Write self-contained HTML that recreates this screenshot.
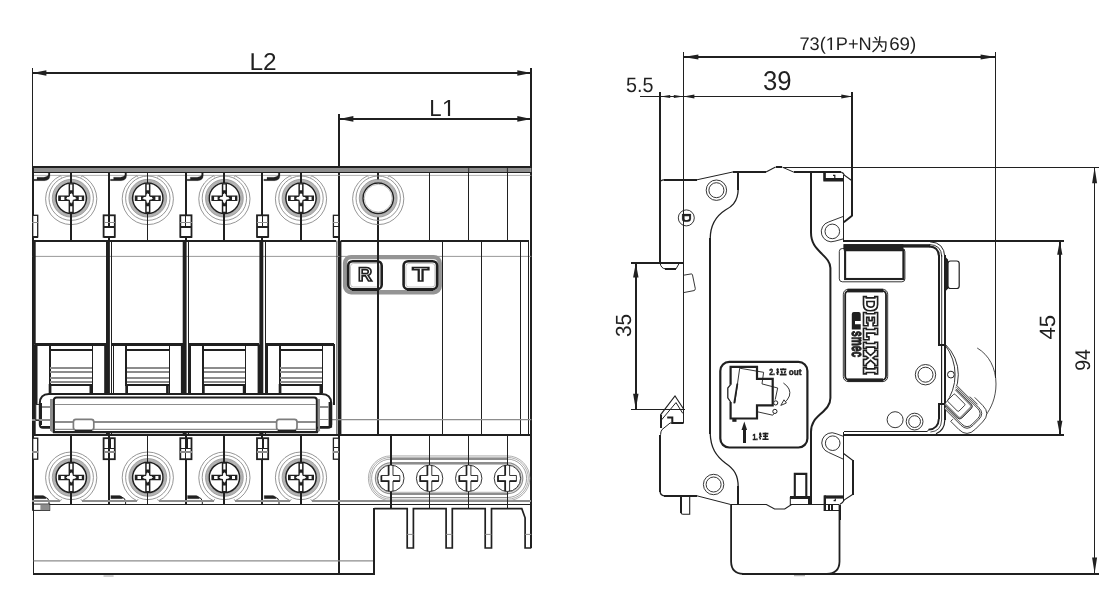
<!DOCTYPE html>
<html><head><meta charset="utf-8"><title>Dimensions</title>
<style>
html,body{margin:0;padding:0;background:#fff;}
svg{display:block;will-change:transform;filter:grayscale(1);}
text{font-family:"Liberation Sans",sans-serif;fill:#231f20;text-rendering:geometricPrecision;}
</style></head><body>
<svg width="1112" height="606" viewBox="0 0 1112 606">
<rect x="0" y="0" width="1112" height="606" fill="#ffffff"/>
<defs>
<g id="rg">
<circle r="22.2" fill="none" stroke="#8a8a8a" stroke-width="0.9"/>
<circle r="17.6" fill="#fff" stroke="#b4b4b4" stroke-width="2.3"/>
<circle r="18.9" fill="none" stroke="#858585" stroke-width="0.7"/>
<circle r="16.4" fill="none" stroke="#8c8c8c" stroke-width="0.6"/>
<circle r="15.2" fill="#fff" stroke="#231f20" stroke-width="1.5"/>
</g>
<g id="bsT">
<path d="M-10.8,-22.8 A25.6,25.6 0 1 0 10.8,-22.8" transform="translate(0,0.4)" fill="none" stroke="#8a8a8a" stroke-width="0.9"/>
<use href="#rg"/>
<path d="M-2.6,-14.8 H2.6 V-2.7 H13 V2.8 H2.6 V14.8 H-2.6 V2.8 H-13 V-2.7 H-2.6 Z" fill="#231f20"/>
<path d="M-1.1,-13.6 H1.1 V-8 H-1.1 Z M-1.1,13.6 H1.1 V8 H-1.1 Z M-10.3,-1.4 H-6.8 V1.7 H-10.3 Z M10.6,-1.4 H7.6 V1.7 H10.6 Z" fill="#fff"/>
<path d="M0,-5.5 L1.6,-1.6 L5.5,0 L1.6,1.6 L0,5.5 L-1.6,1.6 L-5.5,0 L-1.6,-1.6 Z" fill="#fff"/>
<rect x="-1.2" y="-4.2" width="2.4" height="8.4" fill="#fff"/><rect x="-4.2" y="-1.2" width="8.4" height="2.4" fill="#fff"/>
</g>
<g id="bsB">
<path d="M-10.8,22.8 A25.6,25.6 0 1 1 10.8,22.8" transform="translate(0,0.6)" fill="none" stroke="#8a8a8a" stroke-width="0.9"/>
<use href="#rg"/>
<path d="M-2.6,-14.8 H2.6 V-2.7 H13 V2.8 H2.6 V14.8 H-2.6 V2.8 H-13 V-2.7 H-2.6 Z" fill="#231f20"/>
<path d="M-1.1,-13.6 H1.1 V-8 H-1.1 Z M-1.1,13.6 H1.1 V8 H-1.1 Z M-10.3,-1.4 H-6.8 V1.7 H-10.3 Z M10.6,-1.4 H7.6 V1.7 H10.6 Z" fill="#fff"/>
<path d="M0,-5.5 L1.6,-1.6 L5.5,0 L1.6,1.6 L0,5.5 L-1.6,1.6 L-5.5,0 L-1.6,-1.6 Z" fill="#fff"/>
<rect x="-1.2" y="-4.2" width="2.4" height="8.4" fill="#fff"/><rect x="-4.2" y="-1.2" width="8.4" height="2.4" fill="#fff"/>
</g>
<g id="bsE">
<path d="M-10.8,-22.8 A25.6,25.6 0 1 0 10.8,-22.8" transform="translate(0,0.4)" fill="none" stroke="#8a8a8a" stroke-width="0.9"/>
<use href="#rg"/>
<circle r="13.9" fill="none" stroke="#b0b0b0" stroke-width="0.8"/>
</g>
<g id="ss">
<circle r="13.2" fill="#fff" stroke="#231f20" stroke-width="0.9"/>
<path d="M-2.2,-13 V-2.8 H-9.4 V2.8 H-2.2 V13 M2.2,13 V2.8 H9 V-2.8 H2.2 V-13" fill="#fff" stroke="#231f20" stroke-width="0.9"/>
<path d="M-2.2,-13 V-2.8 M-9.4,-2.8 V2.8 H-2.2 V13 M2.2,2.8 H9" fill="none" stroke="#231f20" stroke-width="1.7"/>
</g>
</defs>

<line x1="32.4" y1="68" x2="32.4" y2="166" stroke="#231f20" stroke-width="1.0"  shape-rendering="crispEdges"/>
<line x1="531.3" y1="68" x2="531.3" y2="548" stroke="#231f20" stroke-width="2.0"  shape-rendering="crispEdges"/>
<line x1="32.4" y1="73" x2="531.3" y2="73" stroke="#231f20" stroke-width="1.9"  shape-rendering="crispEdges"/>
<polygon points="32.4,73 46.4,70.2 46.4,75.8" fill="#231f20"/>
<polygon points="531.3,73 517.3,70.2 517.3,75.8" fill="#231f20"/>
<line x1="339" y1="114" x2="339" y2="574.4" stroke="#231f20" stroke-width="2.0"  shape-rendering="crispEdges"/>
<line x1="339.4" y1="118.9" x2="531.3" y2="118.9" stroke="#231f20" stroke-width="1.9"  shape-rendering="crispEdges"/>
<polygon points="339.4,118.9 353.4,116.10000000000001 353.4,121.7" fill="#231f20"/>
<polygon points="531.3,118.9 517.3,116.10000000000001 517.3,121.7" fill="#231f20"/>
<text transform="translate(249.4,69.9) rotate(0) scale(1.0,1)" font-size="24.4" >L2</text>
<text transform="translate(429.2,115.9) rotate(0) scale(0.96,1)" font-size="23.1" >L</text>
<polygon points="447.93,115.90 447.93,102.01 444.15,104.56 444.15,102.65 448.11,100.08 450.09,100.08 450.09,115.90" fill="#231f20"/>
<rect x="32.4" y="166.4" width="498.9" height="5.6" fill="#8f8f8f"/>
<line x1="31.9" y1="166.7" x2="532.0999999999999" y2="166.7" stroke="#231f20" stroke-width="2.0"  shape-rendering="crispEdges"/>
<line x1="32.4" y1="172.1" x2="531.3" y2="172.1" stroke="#231f20" stroke-width="1.0"  shape-rendering="crispEdges"/>
<line x1="468.7" y1="166" x2="468.7" y2="172" stroke="#231f20" stroke-width="0.9" />
<line x1="507.4" y1="166" x2="507.4" y2="172" stroke="#231f20" stroke-width="0.9" />
<line x1="32.4" y1="175.4" x2="531.3" y2="175.4" stroke="#9a9a9a" stroke-width="0.8" />
<line x1="32.699999999999996" y1="166" x2="32.699999999999996" y2="510.4" stroke="#231f20" stroke-width="1.9"  shape-rendering="crispEdges"/>
<line x1="71.2" y1="172" x2="71.2" y2="240.6" stroke="#231f20" stroke-width="2.1"  shape-rendering="crispEdges"/>
<line x1="71.2" y1="434.6" x2="71.2" y2="504" stroke="#231f20" stroke-width="2.1"  shape-rendering="crispEdges"/>
<use href="#bsT" x="71.2" y="198.2"/>
<use href="#bsB" x="71.2" y="477.4"/>
<line x1="71.2" y1="172" x2="71.2" y2="183" stroke="#231f20" stroke-width="2.1"  shape-rendering="crispEdges"/>
<line x1="71.2" y1="213" x2="71.2" y2="240.6" stroke="#231f20" stroke-width="2.1"  shape-rendering="crispEdges"/>
<line x1="71.2" y1="434.6" x2="71.2" y2="462.5" stroke="#231f20" stroke-width="2.1"  shape-rendering="crispEdges"/>
<line x1="71.2" y1="492.5" x2="71.2" y2="504" stroke="#231f20" stroke-width="2.1"  shape-rendering="crispEdges"/>
<line x1="60.400000000000006" y1="175.6" x2="61.6" y2="177.6" stroke="#8a8a8a" stroke-width="0.7" />
<line x1="82.0" y1="175.6" x2="80.8" y2="177.6" stroke="#8a8a8a" stroke-width="0.7" />
<line x1="147.8" y1="172" x2="147.8" y2="240.6" stroke="#231f20" stroke-width="1.1"  shape-rendering="crispEdges"/>
<line x1="147.8" y1="434.6" x2="147.8" y2="504" stroke="#231f20" stroke-width="1.1"  shape-rendering="crispEdges"/>
<use href="#bsT" x="147.8" y="198.2"/>
<use href="#bsB" x="147.8" y="477.4"/>
<line x1="147.8" y1="172" x2="147.8" y2="183" stroke="#231f20" stroke-width="1.1"  shape-rendering="crispEdges"/>
<line x1="147.8" y1="213" x2="147.8" y2="240.6" stroke="#231f20" stroke-width="1.1"  shape-rendering="crispEdges"/>
<line x1="147.8" y1="434.6" x2="147.8" y2="462.5" stroke="#231f20" stroke-width="1.1"  shape-rendering="crispEdges"/>
<line x1="147.8" y1="492.5" x2="147.8" y2="504" stroke="#231f20" stroke-width="1.1"  shape-rendering="crispEdges"/>
<line x1="137.0" y1="175.6" x2="138.20000000000002" y2="177.6" stroke="#8a8a8a" stroke-width="0.7" />
<line x1="158.60000000000002" y1="175.6" x2="157.4" y2="177.6" stroke="#8a8a8a" stroke-width="0.7" />
<line x1="224.4" y1="172" x2="224.4" y2="240.6" stroke="#231f20" stroke-width="2.1"  shape-rendering="crispEdges"/>
<line x1="224.4" y1="434.6" x2="224.4" y2="504" stroke="#231f20" stroke-width="2.1"  shape-rendering="crispEdges"/>
<use href="#bsT" x="224.4" y="198.2"/>
<use href="#bsB" x="224.4" y="477.4"/>
<line x1="224.4" y1="172" x2="224.4" y2="183" stroke="#231f20" stroke-width="2.1"  shape-rendering="crispEdges"/>
<line x1="224.4" y1="213" x2="224.4" y2="240.6" stroke="#231f20" stroke-width="2.1"  shape-rendering="crispEdges"/>
<line x1="224.4" y1="434.6" x2="224.4" y2="462.5" stroke="#231f20" stroke-width="2.1"  shape-rendering="crispEdges"/>
<line x1="224.4" y1="492.5" x2="224.4" y2="504" stroke="#231f20" stroke-width="2.1"  shape-rendering="crispEdges"/>
<line x1="213.6" y1="175.6" x2="214.8" y2="177.6" stroke="#8a8a8a" stroke-width="0.7" />
<line x1="235.20000000000002" y1="175.6" x2="234.0" y2="177.6" stroke="#8a8a8a" stroke-width="0.7" />
<line x1="301.0" y1="172" x2="301.0" y2="240.6" stroke="#231f20" stroke-width="1.1"  shape-rendering="crispEdges"/>
<line x1="301.0" y1="434.6" x2="301.0" y2="504" stroke="#231f20" stroke-width="1.1"  shape-rendering="crispEdges"/>
<use href="#bsT" x="301.0" y="198.2"/>
<use href="#bsB" x="301.0" y="477.4"/>
<line x1="301.0" y1="172" x2="301.0" y2="183" stroke="#231f20" stroke-width="1.1"  shape-rendering="crispEdges"/>
<line x1="301.0" y1="213" x2="301.0" y2="240.6" stroke="#231f20" stroke-width="1.1"  shape-rendering="crispEdges"/>
<line x1="301.0" y1="434.6" x2="301.0" y2="462.5" stroke="#231f20" stroke-width="1.1"  shape-rendering="crispEdges"/>
<line x1="301.0" y1="492.5" x2="301.0" y2="504" stroke="#231f20" stroke-width="1.1"  shape-rendering="crispEdges"/>
<line x1="290.2" y1="175.6" x2="291.4" y2="177.6" stroke="#8a8a8a" stroke-width="0.7" />
<line x1="311.8" y1="175.6" x2="310.6" y2="177.6" stroke="#8a8a8a" stroke-width="0.7" />
<path d="M48.3,172.6 H50.0 V175.6 Q49.8,180.7 44.4,180.7 H33.8 V179.3 H37.0 V177.2 H43.9 Q48.099999999999994,177 48.3,174.6 Z" stroke="#231f20" stroke-width="0.2" fill="#231f20" />
<path d="M34.199999999999996,495.5 H43.0 Q46.0,496.2 46.0,498.7 H34.199999999999996 Z" stroke="#231f20" stroke-width="0.2" fill="#231f20" />
<path d="M44.9,497 Q48.8,498 49.0,501.6 V504" stroke="#231f20" stroke-width="1.0" fill="none" />
<path d="M124.9,172.6 H126.6 V175.6 Q126.4,180.7 121.0,180.7 H110.4 V179.3 H113.6 V177.2 H120.5 Q124.7,177 124.9,174.6 Z" stroke="#231f20" stroke-width="0.2" fill="#231f20" />
<path d="M110.8,495.5 H119.6 Q122.6,496.2 122.6,498.7 H110.8 Z" stroke="#231f20" stroke-width="0.2" fill="#231f20" />
<path d="M121.5,497 Q125.4,498 125.6,501.6 V504" stroke="#231f20" stroke-width="1.0" fill="none" />
<path d="M201.6,172.6 H203.29999999999998 V175.6 Q203.1,180.7 197.7,180.7 H187.1 V179.3 H190.29999999999998 V177.2 H197.2 Q201.39999999999998,177 201.6,174.6 Z" stroke="#231f20" stroke-width="0.2" fill="#231f20" />
<path d="M187.5,495.5 H196.29999999999998 Q199.29999999999998,496.2 199.29999999999998,498.7 H187.5 Z" stroke="#231f20" stroke-width="0.2" fill="#231f20" />
<path d="M198.2,497 Q202.1,498 202.29999999999998,501.6 V504" stroke="#231f20" stroke-width="1.0" fill="none" />
<path d="M278.29999999999995,172.6 H280.0 V175.6 Q279.79999999999995,180.7 274.4,180.7 H263.79999999999995 V179.3 H267.0 V177.2 H273.9 Q278.09999999999997,177 278.29999999999995,174.6 Z" stroke="#231f20" stroke-width="0.2" fill="#231f20" />
<path d="M264.2,495.5 H273.0 Q276.0,496.2 276.0,498.7 H264.2 Z" stroke="#231f20" stroke-width="0.2" fill="#231f20" />
<path d="M274.9,497 Q278.79999999999995,498 279.0,501.6 V504" stroke="#231f20" stroke-width="1.0" fill="none" />
<line x1="429.6" y1="172" x2="429.6" y2="240.6" stroke="#231f20" stroke-width="1.0"  shape-rendering="crispEdges"/>
<line x1="468.7" y1="172" x2="468.7" y2="240.6" stroke="#231f20" stroke-width="1.0"  shape-rendering="crispEdges"/>
<line x1="507.4" y1="172" x2="507.4" y2="240.6" stroke="#231f20" stroke-width="1.0"  shape-rendering="crispEdges"/>
<line x1="378.2" y1="172" x2="378.2" y2="434.6" stroke="#231f20" stroke-width="2.0"  shape-rendering="crispEdges"/>
<use href="#bsE" x="378.2" y="198.2"/>
<line x1="367.4" y1="175.6" x2="368.59999999999997" y2="177.6" stroke="#8a8a8a" stroke-width="0.7" />
<line x1="389.0" y1="175.6" x2="387.8" y2="177.6" stroke="#8a8a8a" stroke-width="0.7" />
<line x1="109.0" y1="172" x2="109.0" y2="240.6" stroke="#231f20" stroke-width="2.1"  shape-rendering="crispEdges"/>
<line x1="109.0" y1="434.6" x2="109.0" y2="504" stroke="#231f20" stroke-width="2.1"  shape-rendering="crispEdges"/>
<rect x="103.6" y="215.3" width="11.2" height="21.6" rx="0" stroke="#231f20" stroke-width="1.8" fill="#fff"/>
<line x1="103.6" y1="237" x2="114.8" y2="237" stroke="#231f20" stroke-width="2.5"  shape-rendering="crispEdges"/>
<line x1="109.0" y1="215" x2="109.0" y2="226.8" stroke="#231f20" stroke-width="1.2"  shape-rendering="crispEdges"/>
<line x1="103.6" y1="226.8" x2="114.8" y2="226.8" stroke="#231f20" stroke-width="1.7"  shape-rendering="crispEdges"/>
<line x1="103.6" y1="222.6" x2="114.8" y2="222.6" stroke="#8d8d8d" stroke-width="1.7"  shape-rendering="crispEdges"/>
<rect x="103.6" y="438.2" width="11.2" height="21" rx="0" stroke="#231f20" stroke-width="1.8" fill="#fff"/>
<line x1="109.0" y1="447.4" x2="109.0" y2="459" stroke="#231f20" stroke-width="1.2"  shape-rendering="crispEdges"/>
<line x1="109.6" y1="438" x2="109.6" y2="448.6" stroke="#231f20" stroke-width="2.9"  shape-rendering="crispEdges"/>
<line x1="103.6" y1="448.6" x2="114.8" y2="448.6" stroke="#231f20" stroke-width="1.7"  shape-rendering="crispEdges"/>
<line x1="103.6" y1="452.2" x2="114.8" y2="452.2" stroke="#8d8d8d" stroke-width="1.7"  shape-rendering="crispEdges"/>
<line x1="185.7" y1="172" x2="185.7" y2="240.6" stroke="#231f20" stroke-width="2.1"  shape-rendering="crispEdges"/>
<line x1="185.7" y1="434.6" x2="185.7" y2="504" stroke="#231f20" stroke-width="2.1"  shape-rendering="crispEdges"/>
<rect x="180.29999999999998" y="215.3" width="11.2" height="21.6" rx="0" stroke="#231f20" stroke-width="1.8" fill="#fff"/>
<line x1="180.29999999999998" y1="237" x2="191.5" y2="237" stroke="#231f20" stroke-width="2.5"  shape-rendering="crispEdges"/>
<line x1="185.7" y1="215" x2="185.7" y2="226.8" stroke="#231f20" stroke-width="1.2"  shape-rendering="crispEdges"/>
<line x1="180.29999999999998" y1="226.8" x2="191.5" y2="226.8" stroke="#231f20" stroke-width="1.7"  shape-rendering="crispEdges"/>
<line x1="180.29999999999998" y1="222.6" x2="191.5" y2="222.6" stroke="#8d8d8d" stroke-width="1.7"  shape-rendering="crispEdges"/>
<rect x="180.29999999999998" y="438.2" width="11.2" height="21" rx="0" stroke="#231f20" stroke-width="1.8" fill="#fff"/>
<line x1="185.7" y1="447.4" x2="185.7" y2="459" stroke="#231f20" stroke-width="1.2"  shape-rendering="crispEdges"/>
<line x1="186.29999999999998" y1="438" x2="186.29999999999998" y2="448.6" stroke="#231f20" stroke-width="2.9"  shape-rendering="crispEdges"/>
<line x1="180.29999999999998" y1="448.6" x2="191.5" y2="448.6" stroke="#231f20" stroke-width="1.7"  shape-rendering="crispEdges"/>
<line x1="180.29999999999998" y1="452.2" x2="191.5" y2="452.2" stroke="#8d8d8d" stroke-width="1.7"  shape-rendering="crispEdges"/>
<line x1="262.4" y1="172" x2="262.4" y2="240.6" stroke="#231f20" stroke-width="2.1"  shape-rendering="crispEdges"/>
<line x1="262.4" y1="434.6" x2="262.4" y2="504" stroke="#231f20" stroke-width="2.1"  shape-rendering="crispEdges"/>
<rect x="257.0" y="215.3" width="11.2" height="21.6" rx="0" stroke="#231f20" stroke-width="1.8" fill="#fff"/>
<line x1="257.0" y1="237" x2="268.2" y2="237" stroke="#231f20" stroke-width="2.5"  shape-rendering="crispEdges"/>
<line x1="262.4" y1="215" x2="262.4" y2="226.8" stroke="#231f20" stroke-width="1.2"  shape-rendering="crispEdges"/>
<line x1="257.0" y1="226.8" x2="268.2" y2="226.8" stroke="#231f20" stroke-width="1.7"  shape-rendering="crispEdges"/>
<line x1="257.0" y1="222.6" x2="268.2" y2="222.6" stroke="#8d8d8d" stroke-width="1.7"  shape-rendering="crispEdges"/>
<rect x="257.0" y="438.2" width="11.2" height="21" rx="0" stroke="#231f20" stroke-width="1.8" fill="#fff"/>
<line x1="262.4" y1="447.4" x2="262.4" y2="459" stroke="#231f20" stroke-width="1.2"  shape-rendering="crispEdges"/>
<line x1="263.0" y1="438" x2="263.0" y2="448.6" stroke="#231f20" stroke-width="2.9"  shape-rendering="crispEdges"/>
<line x1="257.0" y1="448.6" x2="268.2" y2="448.6" stroke="#231f20" stroke-width="1.7"  shape-rendering="crispEdges"/>
<line x1="257.0" y1="452.2" x2="268.2" y2="452.2" stroke="#8d8d8d" stroke-width="1.7"  shape-rendering="crispEdges"/>
<rect x="32.699999999999996" y="215.3" width="5" height="21.6" rx="0" stroke="#231f20" stroke-width="1.3" fill="#fff"/>
<line x1="32.4" y1="222.6" x2="37.8" y2="222.6" stroke="#8d8d8d" stroke-width="1.7"  shape-rendering="crispEdges"/>
<line x1="32.4" y1="237" x2="37.8" y2="237" stroke="#231f20" stroke-width="2.3"  shape-rendering="crispEdges"/>
<rect x="32.699999999999996" y="438.2" width="5" height="21" rx="0" stroke="#231f20" stroke-width="1.3" fill="#fff"/>
<line x1="32.4" y1="452.2" x2="37.8" y2="452.2" stroke="#8d8d8d" stroke-width="1.7"  shape-rendering="crispEdges"/>
<rect x="333.4" y="215.3" width="5.4" height="21.6" rx="0" stroke="#231f20" stroke-width="1.3" fill="#fff"/>
<line x1="333.4" y1="222.6" x2="338.79999999999995" y2="222.6" stroke="#8d8d8d" stroke-width="1.7"  shape-rendering="crispEdges"/>
<line x1="333.4" y1="226.8" x2="338.79999999999995" y2="226.8" stroke="#231f20" stroke-width="1.2"  shape-rendering="crispEdges"/>
<line x1="333.4" y1="237" x2="338.79999999999995" y2="237" stroke="#231f20" stroke-width="2.3"  shape-rendering="crispEdges"/>
<rect x="333.4" y="438.2" width="5.4" height="21" rx="0" stroke="#231f20" stroke-width="1.3" fill="#fff"/>
<line x1="333.4" y1="447.4" x2="338.79999999999995" y2="447.4" stroke="#231f20" stroke-width="1.2"  shape-rendering="crispEdges"/>
<line x1="333.4" y1="452.2" x2="338.79999999999995" y2="452.2" stroke="#8d8d8d" stroke-width="1.7"  shape-rendering="crispEdges"/>
<line x1="32.4" y1="240.6" x2="336.4" y2="240.6" stroke="#231f20" stroke-width="2.1"  shape-rendering="crispEdges"/>
<line x1="341.4" y1="240.6" x2="528.8" y2="240.6" stroke="#231f20" stroke-width="1.9"  shape-rendering="crispEdges"/>
<line x1="32.4" y1="256.4" x2="531.3" y2="256.4" stroke="#8d8d8d" stroke-width="0.9" />
<rect x="32.3" y="240.6" width="3.4" height="104" fill="#231f20"/>
<rect x="32.199999999999996" y="344.4" width="5.3" height="60.2" fill="#231f20"/>
<rect x="32.199999999999996" y="404" width="3.5" height="30.6" fill="#231f20"/>
<rect x="104.2" y="344.4" width="3.4" height="49.5" fill="#231f20"/>
<line x1="35.4" y1="344.5" x2="106.0" y2="344.5" stroke="#231f20" stroke-width="2.3"  shape-rendering="crispEdges"/>
<line x1="49.5" y1="344.5" x2="49.5" y2="385" stroke="#231f20" stroke-width="2.0"  shape-rendering="crispEdges"/>
<line x1="92.5" y1="344.5" x2="92.5" y2="393.4" stroke="#231f20" stroke-width="1.2"  shape-rendering="crispEdges"/>
<line x1="48.599999999999994" y1="349.7" x2="92.5" y2="349.7" stroke="#231f20" stroke-width="2.0"  shape-rendering="crispEdges"/>
<line x1="50.4" y1="368.2" x2="92.0" y2="368.2" stroke="#8a8c8e" stroke-width="1.9"  shape-rendering="crispEdges"/>
<line x1="50.4" y1="372.4" x2="92.0" y2="372.4" stroke="#8a8c8e" stroke-width="1.9"  shape-rendering="crispEdges"/>
<line x1="50.4" y1="377.7" x2="92.0" y2="377.7" stroke="#8a8c8e" stroke-width="1.9"  shape-rendering="crispEdges"/>
<line x1="50.4" y1="381.9" x2="92.0" y2="381.9" stroke="#8a8c8e" stroke-width="1.9"  shape-rendering="crispEdges"/>
<line x1="48.599999999999994" y1="384.6" x2="92.19999999999999" y2="384.6" stroke="#231f20" stroke-width="2.0"  shape-rendering="crispEdges"/>
<rect x="48.7" y="384" width="2.7" height="9.6" fill="#231f20"/>
<rect x="89.5" y="384" width="2.7" height="9.6" fill="#231f20"/>
<rect x="106.0" y="240.6" width="3.9" height="194" fill="#231f20"/>
<line x1="111.6" y1="240.6" x2="111.6" y2="434.6" stroke="#231f20" stroke-width="1.0"  shape-rendering="crispEdges"/>
<line x1="113.5" y1="344.4" x2="113.5" y2="393.5" stroke="#231f20" stroke-width="1.9"  shape-rendering="crispEdges"/>
<rect x="180.89999999999998" y="344.4" width="3.4" height="49.5" fill="#231f20"/>
<line x1="112.0" y1="344.5" x2="182.7" y2="344.5" stroke="#231f20" stroke-width="2.3"  shape-rendering="crispEdges"/>
<line x1="126.1" y1="344.5" x2="126.1" y2="385" stroke="#231f20" stroke-width="2.0"  shape-rendering="crispEdges"/>
<line x1="169.1" y1="344.5" x2="169.1" y2="393.4" stroke="#231f20" stroke-width="1.2"  shape-rendering="crispEdges"/>
<line x1="125.2" y1="349.7" x2="169.1" y2="349.7" stroke="#231f20" stroke-width="2.0"  shape-rendering="crispEdges"/>
<line x1="127.0" y1="368.2" x2="168.6" y2="368.2" stroke="#8a8c8e" stroke-width="1.9"  shape-rendering="crispEdges"/>
<line x1="127.0" y1="372.4" x2="168.6" y2="372.4" stroke="#8a8c8e" stroke-width="1.9"  shape-rendering="crispEdges"/>
<line x1="127.0" y1="377.7" x2="168.6" y2="377.7" stroke="#8a8c8e" stroke-width="1.9"  shape-rendering="crispEdges"/>
<line x1="127.0" y1="381.9" x2="168.6" y2="381.9" stroke="#8a8c8e" stroke-width="1.9"  shape-rendering="crispEdges"/>
<line x1="125.2" y1="384.6" x2="168.8" y2="384.6" stroke="#231f20" stroke-width="2.0"  shape-rendering="crispEdges"/>
<rect x="125.3" y="384" width="2.7" height="9.6" fill="#231f20"/>
<rect x="166.1" y="384" width="2.7" height="9.6" fill="#231f20"/>
<rect x="182.7" y="240.6" width="3.9" height="194" fill="#231f20"/>
<line x1="188.29999999999998" y1="240.6" x2="188.29999999999998" y2="434.6" stroke="#231f20" stroke-width="1.0"  shape-rendering="crispEdges"/>
<line x1="190.2" y1="344.4" x2="190.2" y2="393.5" stroke="#231f20" stroke-width="1.9"  shape-rendering="crispEdges"/>
<rect x="257.59999999999997" y="344.4" width="3.4" height="49.5" fill="#231f20"/>
<line x1="188.7" y1="344.5" x2="259.4" y2="344.5" stroke="#231f20" stroke-width="2.3"  shape-rendering="crispEdges"/>
<line x1="202.79999999999998" y1="344.5" x2="202.79999999999998" y2="385" stroke="#231f20" stroke-width="2.0"  shape-rendering="crispEdges"/>
<line x1="245.79999999999998" y1="344.5" x2="245.79999999999998" y2="393.4" stroke="#231f20" stroke-width="1.2"  shape-rendering="crispEdges"/>
<line x1="201.89999999999998" y1="349.7" x2="245.79999999999998" y2="349.7" stroke="#231f20" stroke-width="2.0"  shape-rendering="crispEdges"/>
<line x1="203.7" y1="368.2" x2="245.29999999999998" y2="368.2" stroke="#8a8c8e" stroke-width="1.9"  shape-rendering="crispEdges"/>
<line x1="203.7" y1="372.4" x2="245.29999999999998" y2="372.4" stroke="#8a8c8e" stroke-width="1.9"  shape-rendering="crispEdges"/>
<line x1="203.7" y1="377.7" x2="245.29999999999998" y2="377.7" stroke="#8a8c8e" stroke-width="1.9"  shape-rendering="crispEdges"/>
<line x1="203.7" y1="381.9" x2="245.29999999999998" y2="381.9" stroke="#8a8c8e" stroke-width="1.9"  shape-rendering="crispEdges"/>
<line x1="201.89999999999998" y1="384.6" x2="245.5" y2="384.6" stroke="#231f20" stroke-width="2.0"  shape-rendering="crispEdges"/>
<rect x="202.0" y="384" width="2.7" height="9.6" fill="#231f20"/>
<rect x="242.79999999999998" y="384" width="2.7" height="9.6" fill="#231f20"/>
<rect x="259.4" y="240.6" width="3.9" height="194" fill="#231f20"/>
<line x1="265.0" y1="240.6" x2="265.0" y2="434.6" stroke="#231f20" stroke-width="1.0"  shape-rendering="crispEdges"/>
<line x1="266.9" y1="344.4" x2="266.9" y2="393.5" stroke="#231f20" stroke-width="1.9"  shape-rendering="crispEdges"/>
<line x1="334.4" y1="344.4" x2="334.4" y2="405" stroke="#231f20" stroke-width="2.0"  shape-rendering="crispEdges"/>
<line x1="265.4" y1="344.5" x2="334.4" y2="344.5" stroke="#231f20" stroke-width="2.3"  shape-rendering="crispEdges"/>
<line x1="279.5" y1="344.5" x2="279.5" y2="385" stroke="#231f20" stroke-width="2.0"  shape-rendering="crispEdges"/>
<line x1="322.5" y1="344.5" x2="322.5" y2="393.4" stroke="#231f20" stroke-width="1.2"  shape-rendering="crispEdges"/>
<line x1="278.59999999999997" y1="349.7" x2="322.5" y2="349.7" stroke="#231f20" stroke-width="2.0"  shape-rendering="crispEdges"/>
<line x1="280.4" y1="368.2" x2="322.0" y2="368.2" stroke="#8a8c8e" stroke-width="1.9"  shape-rendering="crispEdges"/>
<line x1="280.4" y1="372.4" x2="322.0" y2="372.4" stroke="#8a8c8e" stroke-width="1.9"  shape-rendering="crispEdges"/>
<line x1="280.4" y1="377.7" x2="322.0" y2="377.7" stroke="#8a8c8e" stroke-width="1.9"  shape-rendering="crispEdges"/>
<line x1="280.4" y1="381.9" x2="322.0" y2="381.9" stroke="#8a8c8e" stroke-width="1.9"  shape-rendering="crispEdges"/>
<line x1="278.59999999999997" y1="384.6" x2="322.2" y2="384.6" stroke="#231f20" stroke-width="2.0"  shape-rendering="crispEdges"/>
<rect x="278.7" y="384" width="2.7" height="9.6" fill="#231f20"/>
<rect x="319.5" y="384" width="2.7" height="9.6" fill="#231f20"/>
<line x1="336.9" y1="240.6" x2="336.9" y2="434.6" stroke="#231f20" stroke-width="0.9" />
<rect x="339.4" y="240.6" width="2.0" height="194" fill="#231f20"/>
<line x1="442.5" y1="240.6" x2="442.5" y2="434.6" stroke="#231f20" stroke-width="1.0"  shape-rendering="crispEdges"/>
<line x1="481.6" y1="240.6" x2="481.6" y2="434.6" stroke="#231f20" stroke-width="1.0"  shape-rendering="crispEdges"/>
<line x1="520.4" y1="240.6" x2="520.4" y2="434.6" stroke="#231f20" stroke-width="1.0"  shape-rendering="crispEdges"/>
<line x1="528.8" y1="240.6" x2="528.8" y2="434.6" stroke="#231f20" stroke-width="1.0"  shape-rendering="crispEdges"/>
<line x1="331.8" y1="419.7" x2="531.3" y2="419.7" stroke="#8d8d8d" stroke-width="1.3" />
<rect x="345.1" y="257.1" width="94.6" height="35.2" rx="6" fill="#fff" stroke="#929497" stroke-width="4.4"/>
<rect x="348.2" y="261.2" width="33.5" height="28" rx="4.5" fill="#fff" stroke="#231f20" stroke-width="2.6"/>
<rect x="350.5" y="263.4" width="29" height="23.6" rx="3" fill="none" stroke="#aaa" stroke-width="0.7"/>
<line x1="351.9" y1="289.2" x2="377.9" y2="289.2" stroke="#231f20" stroke-width="3.1"  shape-rendering="crispEdges"/>
<text transform="translate(365.2,281.3) scale(1.0,1)" font-size="19.6" font-weight="bold" text-anchor="middle" style="fill:#fff;stroke:#231f20;stroke-width:1.7">R</text>
<rect x="403.6" y="261.2" width="33.5" height="28" rx="4.5" fill="#fff" stroke="#231f20" stroke-width="2.6"/>
<rect x="405.90000000000003" y="263.4" width="29" height="23.6" rx="3" fill="none" stroke="#aaa" stroke-width="0.7"/>
<line x1="407.3" y1="289.2" x2="433.3" y2="289.2" stroke="#231f20" stroke-width="3.1"  shape-rendering="crispEdges"/>
<text transform="translate(420.6,281.3) scale(1.36,1)" font-size="19.6" font-weight="bold" text-anchor="middle" style="fill:#fff;stroke:#231f20;stroke-width:1.7">T</text>
<line x1="378.2" y1="255" x2="378.2" y2="295" stroke="#231f20" stroke-width="2.2"  shape-rendering="crispEdges"/>
<path d="M48.9,394.1 H321.8 Q331,394.3 331.2,403.2 V424.5 Q331.2,427.7 328,427.7 H43 Q39.8,427.7 39.8,424.5 V403.2 Q40,394.3 48.9,394.1 Z" fill="#fff" stroke="#231f20" stroke-width="2"/>
<line x1="40.3" y1="403" x2="40.3" y2="425" stroke="#231f20" stroke-width="2.6"  shape-rendering="crispEdges"/>
<rect x="328.6" y="402" width="3.5" height="25.6" fill="#231f20"/>
<line x1="319" y1="427.4" x2="331" y2="427.4" stroke="#231f20" stroke-width="2.0"  shape-rendering="crispEdges"/>
<line x1="41" y1="427.4" x2="51" y2="427.4" stroke="#231f20" stroke-width="2.0"  shape-rendering="crispEdges"/>
<line x1="41.6" y1="406.8" x2="50.4" y2="406.8" stroke="#8d8d8d" stroke-width="1.7"  shape-rendering="crispEdges"/>
<line x1="31.5" y1="419.9" x2="50.4" y2="419.9" stroke="#8d8d8d" stroke-width="1.7"  shape-rendering="crispEdges"/>
<line x1="319.8" y1="406.8" x2="328.6" y2="406.8" stroke="#8d8d8d" stroke-width="1.7"  shape-rendering="crispEdges"/>
<line x1="319.8" y1="419.6" x2="328.6" y2="419.6" stroke="#8d8d8d" stroke-width="1.7"  shape-rendering="crispEdges"/>
<path d="M53.9,432.2 V400 Q53.9,397.5 56.5,397.5 H314.2 Q316.8,397.5 316.8,400 V432.2 Z" fill="#fff" stroke="#231f20" stroke-width="2"/>
<line x1="51.5" y1="398.8" x2="51.5" y2="430.6" stroke="#8d8d8d" stroke-width="2.3"  shape-rendering="crispEdges"/>
<line x1="318.9" y1="398.8" x2="318.9" y2="430.6" stroke="#8d8d8d" stroke-width="2.3"  shape-rendering="crispEdges"/>
<path d="M50.6,430 L53.5,432.6" stroke="#8d8d8d" stroke-width="1.3" fill="none" />
<path d="M319.8,430 L317,432.6" stroke="#8d8d8d" stroke-width="1.3" fill="none" />
<line x1="54.9" y1="404.5" x2="315.8" y2="404.5" stroke="#8d8d8d" stroke-width="1.7"  shape-rendering="crispEdges"/>
<line x1="54.9" y1="421.9" x2="315.8" y2="421.9" stroke="#8d8d8d" stroke-width="1.7"  shape-rendering="crispEdges"/>
<line x1="54.9" y1="429.4" x2="315.8" y2="429.4" stroke="#8d8d8d" stroke-width="1.1" />
<line x1="53" y1="431.8" x2="317.8" y2="431.8" stroke="#231f20" stroke-width="2.1"  shape-rendering="crispEdges"/>
<rect x="73.4" y="419.4" width="20.4" height="10.6" rx="2.5" fill="#fff" stroke="#7d7d7d" stroke-width="1.7"/>
<line x1="74.9" y1="430.9" x2="92.4" y2="430.9" stroke="#231f20" stroke-width="2.3"  shape-rendering="crispEdges"/>
<rect x="276.6" y="419.4" width="20.4" height="10.6" rx="2.5" fill="#fff" stroke="#7d7d7d" stroke-width="1.7"/>
<line x1="278.1" y1="430.9" x2="295.6" y2="430.9" stroke="#231f20" stroke-width="2.3"  shape-rendering="crispEdges"/>
<path d="M39.3,404.5 H35.8 V420.4 H39.3" stroke="#231f20" stroke-width="0.9" fill="none" />
<line x1="32.4" y1="434.7" x2="339.4" y2="434.7" stroke="#231f20" stroke-width="1.9"  shape-rendering="crispEdges"/>
<line x1="339.4" y1="434.7" x2="531.3" y2="434.7" stroke="#231f20" stroke-width="1.9"  shape-rendering="crispEdges"/>
<line x1="32.4" y1="501.2" x2="60.400000000000006" y2="501.2" stroke="#8d8d8d" stroke-width="1.7"  shape-rendering="crispEdges"/>
<line x1="82.0" y1="501.2" x2="137.0" y2="501.2" stroke="#8d8d8d" stroke-width="1.7"  shape-rendering="crispEdges"/>
<line x1="158.60000000000002" y1="501.2" x2="213.6" y2="501.2" stroke="#8d8d8d" stroke-width="1.7"  shape-rendering="crispEdges"/>
<line x1="235.20000000000002" y1="501.2" x2="290.2" y2="501.2" stroke="#8d8d8d" stroke-width="1.7"  shape-rendering="crispEdges"/>
<line x1="311.8" y1="501.2" x2="531.3" y2="501.2" stroke="#8d8d8d" stroke-width="1.7"  shape-rendering="crispEdges"/>
<line x1="60.400000000000006" y1="501" x2="61.6" y2="499" stroke="#8a8a8a" stroke-width="0.7" />
<line x1="82.0" y1="501" x2="80.8" y2="499" stroke="#8a8a8a" stroke-width="0.7" />
<line x1="137.0" y1="501" x2="138.20000000000002" y2="499" stroke="#8a8a8a" stroke-width="0.7" />
<line x1="158.60000000000002" y1="501" x2="157.4" y2="499" stroke="#8a8a8a" stroke-width="0.7" />
<line x1="213.6" y1="501" x2="214.8" y2="499" stroke="#8a8a8a" stroke-width="0.7" />
<line x1="235.20000000000002" y1="501" x2="234.0" y2="499" stroke="#8a8a8a" stroke-width="0.7" />
<line x1="290.2" y1="501" x2="291.4" y2="499" stroke="#8a8a8a" stroke-width="0.7" />
<line x1="311.8" y1="501" x2="310.6" y2="499" stroke="#8a8a8a" stroke-width="0.7" />
<line x1="32.4" y1="504.1" x2="531.3" y2="504.1" stroke="#231f20" stroke-width="1.2"  shape-rendering="crispEdges"/>
<rect x="32.699999999999996" y="504.1" width="17" height="6.3" rx="0" stroke="#231f20" stroke-width="1.0" fill="#fff"/>
<rect x="40.4" y="504.8" width="9.2" height="5.4" fill="#8d8d8d"/>
<line x1="33.6" y1="504" x2="33.6" y2="574.4" stroke="#231f20" stroke-width="1.0"  shape-rendering="crispEdges"/>
<line x1="33.6" y1="560.8" x2="374.3" y2="560.8" stroke="#8d8d8d" stroke-width="1.3" />
<line x1="33" y1="574.4" x2="375.1" y2="574.4" stroke="#231f20" stroke-width="2.1"  shape-rendering="crispEdges"/>
<line x1="103.5" y1="576" x2="113.6" y2="576" stroke="#8d8d8d" stroke-width="0.8" />
<line x1="374.3" y1="508.4" x2="374.3" y2="575.2" stroke="#231f20" stroke-width="2.0"  shape-rendering="crispEdges"/>
<rect x="368.40000000000003" y="455.90000000000003" width="161.39999999999998" height="44.8" rx="22.4" fill="none" stroke="#9a9a9a" stroke-width="0.8"/>
<rect x="369.90000000000003" y="457.40000000000003" width="158.39999999999998" height="41.8" rx="20.9" fill="none" stroke="#9a9a9a" stroke-width="0.8"/>
<rect x="371.6" y="459.1" width="154.99999999999997" height="38.4" rx="19.2" fill="none" stroke="#8d8d8d" stroke-width="0.8"/>
<rect x="375.40000000000003" y="462.90000000000003" width="147.39999999999998" height="30.8" rx="15.4" fill="none" stroke="#8d8d8d" stroke-width="1.2"/>
<rect x="376.8" y="464.3" width="144.59999999999997" height="28" rx="14" fill="none" stroke="#8d8d8d" stroke-width="0.7"/>
<line x1="390.8" y1="459.1" x2="507.4" y2="459.1" stroke="#8d8d8d" stroke-width="1.8"  shape-rendering="crispEdges"/>
<line x1="390.8" y1="497.5" x2="507.4" y2="497.5" stroke="#8d8d8d" stroke-width="1.8"  shape-rendering="crispEdges"/>
<line x1="390.8" y1="462.90000000000003" x2="507.4" y2="462.90000000000003" stroke="#8d8d8d" stroke-width="2.3"  shape-rendering="crispEdges"/>
<line x1="390.8" y1="493.7" x2="507.4" y2="493.7" stroke="#8d8d8d" stroke-width="2.3"  shape-rendering="crispEdges"/>
<line x1="390.8" y1="434.6" x2="390.8" y2="508.4" stroke="#231f20" stroke-width="2.0"  shape-rendering="crispEdges"/>
<use href="#ss" x="390.8" y="478.3"/>
<line x1="429.6" y1="434.6" x2="429.6" y2="508.4" stroke="#231f20" stroke-width="1.0"  shape-rendering="crispEdges"/>
<use href="#ss" x="429.6" y="478.3"/>
<line x1="468.7" y1="434.6" x2="468.7" y2="508.4" stroke="#231f20" stroke-width="1.0"  shape-rendering="crispEdges"/>
<use href="#ss" x="468.7" y="478.3"/>
<line x1="507.4" y1="434.6" x2="507.4" y2="508.4" stroke="#231f20" stroke-width="1.0"  shape-rendering="crispEdges"/>
<use href="#ss" x="507.4" y="478.3"/>
<path d="M374.3,508.6 H407.2 V548 H413.4 V508.6 H446.1 V548 H452.3 V508.6 H485.2 V548 H491.5 V508.6 H521.8 L525.1,517.8 V548 H531.3" stroke="#231f20" stroke-width="1.7" fill="none" />
<line x1="407.2" y1="534.4" x2="413.4" y2="534.4" stroke="#8d8d8d" stroke-width="1.0" />
<line x1="446.1" y1="534.4" x2="452.3" y2="534.4" stroke="#8d8d8d" stroke-width="1.0" />
<line x1="485.2" y1="534.4" x2="491.4" y2="534.4" stroke="#8d8d8d" stroke-width="1.0" />
<line x1="525.1" y1="534.4" x2="531.3000000000001" y2="534.4" stroke="#8d8d8d" stroke-width="1.0" />
<line x1="683.4" y1="52.3" x2="683.4" y2="423.4" stroke="#231f20" stroke-width="1.0"  shape-rendering="crispEdges"/>
<line x1="995.6" y1="52.3" x2="995.6" y2="378" stroke="#231f20" stroke-width="1.0"  shape-rendering="crispEdges"/>
<line x1="683.4" y1="57" x2="995.6" y2="57" stroke="#231f20" stroke-width="1.8"  shape-rendering="crispEdges"/>
<polygon points="683.4,57 698.4,54.5 698.4,59.5" fill="#231f20"/>
<polygon points="995.6,57 980.6,54.5 980.6,59.5" fill="#231f20"/>
<text transform="translate(799.4,50.1) rotate(0) scale(1.0,1)" font-size="18.2" >73(</text>
<polygon points="830.36,50.10 830.36,39.11 827.42,41.12 827.42,39.61 830.50,37.58 832.03,37.58 832.03,50.10" fill="#231f20"/>
<text transform="translate(835.8,50.1) rotate(0) scale(1.0,1)" font-size="18.2" >P+N</text>
<text transform="translate(889.2,50.1) rotate(0) scale(1.03,1)" font-size="18.2" >69)</text>
<g transform="translate(872.3,36.2)" fill="none" stroke="#231f20" stroke-width="1.35" stroke-linecap="round" stroke-linejoin="round"><path d="M2.6,1.2 L4.6,3.6"/><path d="M0.8,5.6 H13.6 Q13.8,12 12.6,14.4 Q12,15.4 9.8,14.8"/><path d="M7.6,0.4 Q7.4,6 6,9.4 Q4.4,13 0.6,15.4"/><path d="M7.4,8 L9.6,10.8"/></g>
<line x1="660.1" y1="92" x2="660.1" y2="263" stroke="#231f20" stroke-width="2.0"  shape-rendering="crispEdges"/>
<line x1="852.3" y1="92" x2="852.3" y2="215.6" stroke="#231f20" stroke-width="2.0"  shape-rendering="crispEdges"/>
<line x1="640.2" y1="96.5" x2="852.3" y2="96.5" stroke="#231f20" stroke-width="1.2"  shape-rendering="crispEdges"/>
<polygon points="660.6,96.5 670.2,95.0 670.2,98.0" fill="#231f20"/>
<polygon points="683.4,96.5 673.8,95.0 673.8,98.0" fill="#231f20"/>
<polygon points="683.4,96.5 694.4,94.6 694.4,98.4" fill="#231f20"/>
<polygon points="852.3,96.5 841.3,94.6 841.3,98.4" fill="#231f20"/>
<text transform="translate(762.9,89.8) rotate(0) scale(0.95,1)" font-size="27.1" >39</text>
<text transform="translate(626.1,91.9) rotate(0) scale(0.95,1)" font-size="20.8" >5.5</text>
<line x1="783" y1="167.3" x2="1099.2" y2="167.3" stroke="#231f20" stroke-width="1.0"  shape-rendering="crispEdges"/>
<line x1="1094.6" y1="167.3" x2="1094.6" y2="574" stroke="#231f20" stroke-width="1.0"  shape-rendering="crispEdges"/>
<polygon points="1094.6,167.3 1092.1,183.3 1097.1,183.3" fill="#231f20"/>
<polygon points="1094.6,573.6 1092.1,557.6 1097.1,557.6" fill="#231f20"/>
<line x1="742" y1="574" x2="1099.2" y2="574" stroke="#231f20" stroke-width="2.1"  shape-rendering="crispEdges"/>
<text transform="translate(1090.0,370.8) rotate(-90) scale(0.92,1)" font-size="21.2" >94</text>
<line x1="843.4" y1="240.7" x2="1063.8" y2="240.7" stroke="#231f20" stroke-width="2.0"  shape-rendering="crispEdges"/>
<line x1="843.4" y1="434.8" x2="1063.8" y2="434.8" stroke="#231f20" stroke-width="2.0"  shape-rendering="crispEdges"/>
<line x1="1059.8" y1="240.7" x2="1059.8" y2="434.8" stroke="#231f20" stroke-width="1.9"  shape-rendering="crispEdges"/>
<polygon points="1059.8,240.7 1057.2,254.7 1062.3999999999999,254.7" fill="#231f20"/>
<polygon points="1059.8,434.8 1057.2,420.8 1062.3999999999999,420.8" fill="#231f20"/>
<text transform="translate(1054.5,339.5) rotate(-90) scale(1.0,1)" font-size="22.2" >45</text>
<line x1="631" y1="263" x2="683.6" y2="263" stroke="#231f20" stroke-width="2.1"  shape-rendering="crispEdges"/>
<line x1="631" y1="409.3" x2="684.9" y2="409.3" stroke="#231f20" stroke-width="1.0"  shape-rendering="crispEdges"/>
<line x1="635.8" y1="263" x2="635.8" y2="409.3" stroke="#231f20" stroke-width="1.8"  shape-rendering="crispEdges"/>
<polygon points="635.8,263 633.0999999999999,277.5 638.5,277.5" fill="#231f20"/>
<polygon points="635.8,409.3 633.0999999999999,393.8 638.5,393.8" fill="#231f20"/>
<text transform="translate(631.4,337.1) rotate(-90) scale(0.947,1)" font-size="21.9" >35</text>
<path d="M660.1,182.5 Q660.3,180 664,179.8" stroke="#231f20" stroke-width="1.2" fill="none" />
<line x1="663.9" y1="179.8" x2="696.9" y2="179.8" stroke="#231f20" stroke-width="2.1"  shape-rendering="crispEdges"/>
<line x1="696.9" y1="179.8" x2="733.2" y2="171.9" stroke="#231f20" stroke-width="1.0" />
<line x1="733" y1="172" x2="766" y2="172" stroke="#231f20" stroke-width="2.1"  shape-rendering="crispEdges"/>
<path d="M766,172 L775.6,167.1" stroke="#231f20" stroke-width="1.1" fill="none" />
<line x1="775.6" y1="167" x2="782.4" y2="167" stroke="#231f20" stroke-width="2.1"  shape-rendering="crispEdges"/>
<path d="M782.4,167.2 L793.9,172.2" stroke="#231f20" stroke-width="1.0" fill="none" />
<line x1="793.8" y1="172.2" x2="841.2" y2="172.2" stroke="#231f20" stroke-width="2.1"  shape-rendering="crispEdges"/>
<path d="M841.2,172.2 Q843.6,172.8 844.4,175.2 L852,180.8" stroke="#231f20" stroke-width="1.2" fill="none" />
<path d="M852.3,215.4 L843.8,222.2" stroke="#231f20" stroke-width="1.9" fill="none" />
<line x1="843.6" y1="175" x2="843.6" y2="240.7" stroke="#231f20" stroke-width="1.0"  shape-rendering="crispEdges"/>
<line x1="843.6" y1="431.7" x2="843.6" y2="500.5" stroke="#231f20" stroke-width="1.0"  shape-rendering="crispEdges"/>
<path d="M824.3,172.2 V180.6 H843 M824.3,179.6 H843" stroke="#231f20" stroke-width="1.9" fill="none" />
<rect x="824.3" y="178" width="18.7" height="3" fill="#231f20"/>
<rect x="823.6" y="172" width="2.2" height="8.6" fill="#231f20"/>
<path d="M834.8,179 V175.4 H833" stroke="#231f20" stroke-width="1.2" fill="none" />
<path d="M738.2,189 C738.2,203 730,207.5 725.4,210 C716,216 710.2,224 710.2,239" stroke="#231f20" stroke-width="1.3" fill="none" />
<path d="M710.2,433 C710.6,448 716,456 725.6,463.3 C734,469 738.2,475 738.2,487" stroke="#231f20" stroke-width="1.3" fill="none" />
<line x1="738.2" y1="172" x2="738.2" y2="190" stroke="#231f20" stroke-width="2.0"  shape-rendering="crispEdges"/>
<line x1="710.2" y1="238" x2="710.2" y2="434" stroke="#231f20" stroke-width="2.0"  shape-rendering="crispEdges"/>
<line x1="738.2" y1="486" x2="738.2" y2="504.5" stroke="#231f20" stroke-width="2.0"  shape-rendering="crispEdges"/>
<path d="M811,172 V232.6 C811,243 816,248 821,253 C826,258 830.4,262 830.4,268 V398 C830.4,405 826,409 821,413.6 C815,419 811,423 811,432 V504.5" stroke="#231f20" stroke-width="2.0" fill="none" />
<circle cx="716.4" cy="190.2" r="10.2" stroke="#231f20" stroke-width="0.9" fill="none"/>
<circle cx="716.4" cy="190.2" r="7.5" stroke="#231f20" stroke-width="0.9" fill="none"/>
<circle cx="713.6" cy="484.5" r="10.2" stroke="#231f20" stroke-width="0.9" fill="none"/>
<circle cx="713.6" cy="484.5" r="7.5" stroke="#231f20" stroke-width="0.9" fill="none"/>
<circle cx="925.5" cy="374.7" r="10.2" stroke="#231f20" stroke-width="0.9" fill="none"/>
<circle cx="925.5" cy="374.7" r="7.5" stroke="#231f20" stroke-width="0.9" fill="none"/>
<circle cx="686.3" cy="217.9" r="8.0" stroke="#231f20" stroke-width="0.9" fill="none"/>
<path d="M682.1,214 H690.9 V218.5 Q690.9,221.7 687.5,221.7 H685 Q682.1,221.7 682.1,219 Z" stroke="#231f20" stroke-width="0.2" fill="#231f20" />
<path d="M684.6,216.2 H689.1 V218.2 Q689,220 687,220 H685.8 Q684.6,220 684.6,218.8 Z" stroke="#fff" stroke-width="0.1" fill="#fff" />
<circle cx="832.3" cy="231.4" r="7.3" stroke="#231f20" stroke-width="0.9" fill="none"/>
<path d="M843.6,216.3 L828.7,221.96 A10.1,10.1 0 1 0 834.94,241.15 L843.6,238.8" stroke="#231f20" stroke-width="0.9" fill="none" />
<circle cx="832.7" cy="443.2" r="7.3" stroke="#231f20" stroke-width="0.9" fill="none"/>
<path d="M843.6,436.4 L836.13,433.7 A10.1,10.1 0 1 0 828.5,452.38 L843.4,459.2" stroke="#231f20" stroke-width="0.9" fill="none" />
<path d="M660.1,263 Q661,268.6 665.6,268.9" stroke="#231f20" stroke-width="1.0" fill="none" />
<line x1="665.4" y1="268.9" x2="676" y2="268.9" stroke="#231f20" stroke-width="2.1"  shape-rendering="crispEdges"/>
<line x1="676" y1="268.9" x2="679.4" y2="263" stroke="#231f20" stroke-width="1.0" />
<path d="M683.6,275.2 L691.4,273.9 Q692.2,273.9 692.5,275 L695.3,288.6 Q695.4,290.2 694,290.6 L683.6,292.6" stroke="#231f20" stroke-width="0.9" fill="none" />
<path d="M683.6,409 L675,396 L660.6,414.8 V428" stroke="#231f20" stroke-width="1.1" fill="none" />
<line x1="660.6" y1="414.8" x2="660.6" y2="428" stroke="#231f20" stroke-width="2.0"  shape-rendering="crispEdges"/>
<path d="M682.8,413.4 L676,402.6 L661.6,419.8" stroke="#231f20" stroke-width="1.0" fill="none" />
<path d="M667.2,417.5 H672.3 V423 H683.6" stroke="#231f20" stroke-width="2.0" fill="none" />
<line x1="683.6" y1="409" x2="683.6" y2="423.4" stroke="#231f20" stroke-width="1.2"  shape-rendering="crispEdges"/>
<path d="M672.3,423 H670.1 L662,429.6 Q660.6,431.4 660.6,434.8" stroke="#231f20" stroke-width="1.0" fill="none" />
<line x1="660.1" y1="434.6" x2="660.1" y2="491.6" stroke="#231f20" stroke-width="2.0"  shape-rendering="crispEdges"/>
<path d="M660.1,491.4 Q660.4,495.4 664.2,495.8" stroke="#231f20" stroke-width="1.3" fill="none" />
<line x1="663.9" y1="495.8" x2="697" y2="495.8" stroke="#231f20" stroke-width="2.1"  shape-rendering="crispEdges"/>
<line x1="696.9" y1="495.8" x2="730.7" y2="504.5" stroke="#231f20" stroke-width="1.0" />
<path d="M681,495.8 V512.6 Q681.2,514.2 683,514.3 H689.7 V495.8" stroke="#231f20" stroke-width="1.1" fill="none" />
<line x1="681.2" y1="495.8" x2="681.2" y2="512.5" stroke="#231f20" stroke-width="2.3"  shape-rendering="crispEdges"/>
<path d="M730.6,504.5 H766.4 L774.6,509 H784.7 L791.5,504.5 H824.3" stroke="#231f20" stroke-width="1.2" fill="none" />
<rect x="790.3" y="497.5" width="19.3" height="7" rx="0" stroke="#231f20" stroke-width="1.0" fill="#fff"/>
<line x1="790.3" y1="497.5" x2="809.6" y2="497.5" stroke="#231f20" stroke-width="2.1"  shape-rendering="crispEdges"/>
<path d="M794.8,497.3 V473.9 H806.3 V497.3" stroke="#231f20" stroke-width="2.1" fill="none" />
<rect x="808" y="497" width="3.8" height="7.5" fill="#231f20"/>
<path d="M843.6,453.6 L852.6,460.2 V494.4 L844.4,499.8 Q842.6,503.4 840,504.3" stroke="#231f20" stroke-width="1.2" fill="none" />
<line x1="852.6" y1="460" x2="852.6" y2="494.6" stroke="#231f20" stroke-width="2.1"  shape-rendering="crispEdges"/>
<rect x="824.4" y="495.4" width="18.9" height="3.2" fill="#231f20"/>
<rect x="823.6" y="495.4" width="2.4" height="15.6" fill="#231f20"/>
<line x1="824.4" y1="510.4" x2="839.3" y2="510.4" stroke="#231f20" stroke-width="1.8"  shape-rendering="crispEdges"/>
<line x1="824.4" y1="504.5" x2="839.3" y2="504.5" stroke="#231f20" stroke-width="1.2"  shape-rendering="crispEdges"/>
<path d="M835.3,498.6 V500.6 H833.6" stroke="#231f20" stroke-width="1.2" fill="none" />
<line x1="829" y1="504.5" x2="829" y2="510.4" stroke="#231f20" stroke-width="1.2"  shape-rendering="crispEdges"/>
<line x1="832" y1="504.5" x2="832" y2="510.4" stroke="#231f20" stroke-width="1.2"  shape-rendering="crispEdges"/>
<path d="M731.1,504.5 V561.8 Q731.4,573.6 743.2,573.9 H826.8 Q839.2,573.6 839.5,561.8 V504.5" stroke="#231f20" stroke-width="1.8" fill="none" />
<line x1="839.5" y1="504.5" x2="839.5" y2="520" stroke="#231f20" stroke-width="2.0"  shape-rendering="crispEdges"/>
<line x1="794" y1="575.7" x2="805" y2="575.7" stroke="#8d8d8d" stroke-width="0.8" />
<path d="M930,241.8 Q944.2,242.4 944.8,257" stroke="#231f20" stroke-width="1.0" fill="none" />
<path d="M929.5,244.6 Q941.4,244.8 941.7,256.5" stroke="#231f20" stroke-width="0.9" fill="none" />
<rect x="843.6" y="244.2" width="59.6" height="6.2" fill="#231f20"/>
<rect x="903" y="244.2" width="27.2" height="3.4" fill="#231f20"/>
<path d="M929.5,246.5 Q938.6,246.8 938.9,256" stroke="#231f20" stroke-width="2.0" fill="none" />
<rect x="839.3" y="248.5" width="65.6" height="33.3" rx="3" stroke="#231f20" stroke-width="0.9" fill="#fff"/>
<rect x="845.1" y="250.2" width="58.3" height="28.8" rx="0" stroke="#231f20" stroke-width="2.1" fill="#fff"/>
<rect x="843.6" y="244.2" width="59.6" height="6.2" fill="#231f20"/>
<line x1="938.9" y1="255" x2="938.9" y2="345" stroke="#231f20" stroke-width="2.0"  shape-rendering="crispEdges"/>
<line x1="941.7" y1="255" x2="941.7" y2="404" stroke="#231f20" stroke-width="0.9" />
<line x1="944.9" y1="255" x2="944.9" y2="420.4" stroke="#231f20" stroke-width="2.0"  shape-rendering="crispEdges"/>
<line x1="938" y1="345" x2="945.8" y2="345" stroke="#231f20" stroke-width="1.8"  shape-rendering="crispEdges"/>
<line x1="941.7" y1="345" x2="941.7" y2="404" stroke="#231f20" stroke-width="1.3"  shape-rendering="crispEdges"/>
<path d="M944.3,255.6 L948.1,259.8 V288.6 L944.3,292.6 Z" fill="#231f20"/>
<rect x="948" y="261" width="11.2" height="27.5" rx="2.5" stroke="#231f20" stroke-width="1.2" fill="#fff"/>
<line x1="937.9" y1="404" x2="945.8" y2="404" stroke="#231f20" stroke-width="1.8"  shape-rendering="crispEdges"/>
<line x1="938.8" y1="404" x2="938.8" y2="419" stroke="#231f20" stroke-width="1.8"  shape-rendering="crispEdges"/>
<path d="M938.8,419 Q938.4,429 928.6,429.6" stroke="#231f20" stroke-width="1.9" fill="none" />
<path d="M941.6,404 V420 Q941.2,431.4 930.4,432" stroke="#231f20" stroke-width="0.8" fill="none" />
<path d="M944.8,420 Q944.6,430.4 936,433.8" stroke="#231f20" stroke-width="1.2" fill="none" />
<line x1="843.6" y1="431.7" x2="927.2" y2="431.7" stroke="#231f20" stroke-width="1.0"  shape-rendering="crispEdges"/>
<path d="M927.2,431.7 L928.8,429.4" stroke="#231f20" stroke-width="1.0" fill="none" />
<circle cx="895.1" cy="419.7" r="8.0" stroke="#231f20" stroke-width="0.9" fill="none"/>
<circle cx="914.6" cy="421.6" r="8.4" stroke="#231f20" stroke-width="0.9" fill="none"/>
<circle cx="914.6" cy="421.6" r="5.9" stroke="#231f20" stroke-width="0.9" fill="none"/>
<path d="M945.2,345.2 A48.9,48.9 0 0 1 945.2,404.2" stroke="#231f20" stroke-width="0.9" fill="none" />
<path d="M945.4,344.4 A42,42 0 0 1 945.4,405" stroke="#231f20" stroke-width="0.9" fill="none" />
<circle cx="950.9" cy="374.6" r="3.4" stroke="#231f20" stroke-width="1.0" fill="#fff"/>
<path d="M977.2,348 C989,355 996,368 996,384 C996,398 991,408 985.8,415.3 C980,423 974,428.5 968.2,432.6" stroke="#231f20" stroke-width="0.8" fill="none" />
<g transform="translate(950,398) rotate(45)" fill="none" stroke="#231f20" stroke-width="0.8">
<path d="M17,-17.9 H28.5 Q40,-17.9 40,-6 V4 Q40,16 28.5,16 H17 V13" fill="#fff"/>
<path d="M13,-15 H24" />
<path d="M-4,-13.6 H27 Q35.6,-13.6 35.6,-5 V3 Q35.6,11.5 27,11.5 H4" fill="#fff" stroke-width="0.8"/>
<path d="M-3,-12.2 H26.5 Q34.2,-12.2 34.2,-4.8 V2.8 Q34.2,10.1 26.5,10.1 H3" />
<path d="M-2,-9.8 H19 Q21.5,-9.8 21.5,-7.3 V5.2 Q21.5,7.8 19,7.8 H1" stroke="#8d8d8d" stroke-width="2" fill="#fff"/>
<path d="M-2,-10.8 H19.4 Q22.6,-10.8 22.6,-7.6 V5.6 Q22.6,8.8 19.4,8.8 H1" />
<rect x="0" y="-6.2" width="15.6" height="10.2" rx="1.2" fill="#fff"/>
</g>
<rect x="843.3" y="289.2" width="44.4" height="92.4" rx="5" stroke="#231f20" stroke-width="0.9" fill="#fff"/>
<rect x="845.2" y="290.8" width="40.8" height="89.2" rx="4" stroke="#231f20" stroke-width="1.8" fill="#fff"/>
<g transform="translate(878.3,295.9) rotate(90)" fill="#fff" stroke="#231f20" stroke-width="1.65" stroke-linejoin="miter" fill-rule="evenodd">
<path transform="translate(0,0)" d="M0.7,0.7 H8.5 Q14.9,0.7 14.9,7.75 Q14.9,14.8 8.5,14.8 H0.7 V12 H2 V3.5 H0.7 Z M5.6,4.1 V11.4 H8.2 Q11.2,11.4 11.2,7.75 Q11.2,4.1 8.2,4.1 Z"/>
<path transform="translate(15.9,0)" d="M0.7,0.7 H14 V5.2 H11.2 V3.9 H5.6 V6.2 H8.8 V9.3 H5.6 V11.6 H11.2 V10.3 H14 V14.8 H0.7 V12 H2 V3.5 H0.7 Z"/>
<path transform="translate(31.6,0)" d="M0.7,0.7 H7 V3.5 H5.6 V11.6 H9.4 V9.3 H12.2 V14.8 H0.7 V12 H2 V3.5 H0.7 Z"/>
<path transform="translate(45.6,0)" d="M0.7,0.7 H7 V3.5 H5.6 V12 H7 V14.8 H0.7 V12 H2 V3.5 H0.7 Z"/>
<path transform="translate(53.6,0)" d="M0.7,0.7 H6.9 V3.2 L8.4,5.3 L9.9,3.2 V0.7 H16.1 V3.5 H14.7 L10.8,7.75 L14.7,12 H16.1 V14.8 H9.9 V12.3 L8.4,10.2 L6.9,12.3 V14.8 H0.7 V12 H2.1 L6,7.75 L2.1,3.5 H0.7 Z"/>
<path transform="translate(71.0,0)" d="M0.7,0.7 H7 V3.5 H5.6 V12 H7 V14.8 H0.7 V12 H2 V3.5 H0.7 Z"/>
</g>
<path d="M851.8,314 Q851.8,312 853.8,312 H858.7 Q860.7,312 860.7,314 V321 H855 V324.2 H860.7 V329.4 H851.8 Z" fill="#231f20"/>
<text transform="translate(852,331) rotate(90) scale(0.6,1)" font-size="17" font-weight="bold" style="stroke:#231f20;stroke-width:1.1">smec</text>
<rect x="847.4" y="288.9" width="35.6" height="3.5" fill="#231f20"/>
<rect x="847.4" y="378.4" width="35.6" height="3.4" fill="#231f20"/>
<rect x="720.3" y="361.9" width="87.1" height="85.6" rx="9" stroke="#231f20" stroke-width="2.2" fill="#fff"/>
<path d="M730.6,384.7 V366.9 H757 V378.9 H772.7 V405.3 H757 V418.5 H730.6 V402" stroke="#231f20" stroke-width="2.2" fill="none" />
<path d="M730.6,384.7 L727.8,388 V397.9 L730.6,402" stroke="#231f20" stroke-width="1.3" fill="none" />
<path d="M739.7,368.2 L734.8,402.9 M739.7,368.2 L763.6,372.3 L762,383.9 L777.7,388 L775.2,399.6 M757.9,411.9 L772.7,415.2 L774.5,413" stroke="#231f20" stroke-width="0.9" fill="none" />
<path d="M737.4,383.6 L734.2,403.4" stroke="#231f20" stroke-width="1.8" fill="none" />
<circle cx="775.7" cy="402.9" r="2.1" stroke="#231f20" stroke-width="1.0" fill="#fff"/>
<circle cx="774.9" cy="411.4" r="2.1" stroke="#231f20" stroke-width="1.0" fill="#fff"/>
<rect x="732.3" y="418.5" width="4.2" height="3.3" fill="#231f20"/>
<line x1="744.3" y1="443.3" x2="744.3" y2="427" stroke="#231f20" stroke-width="2.5"  shape-rendering="crispEdges"/>
<polygon points="744.3,421.4 741.5,430 747.1,430" fill="#231f20"/>
<text x="752.4" y="439.6" font-size="8.8" font-weight="bold" style="stroke:#231f20;stroke-width:0.5" textLength="5.6" lengthAdjust="spacingAndGlyphs">1.</text>
<path d="M759,434.2 H761.4 M760.2,432.6 V439.6 M759,437.6 L761.6,436 M762.6,433.6 H768.4 M765.4,432.6 V435.4 M763,436.2 H768 M762.4,439.2 H768.6 M765.4,436.2 V439.2" stroke="#231f20" stroke-width="1.6" fill="none"/>
<text x="769.2" y="374.9" font-size="8.8" font-weight="bold" style="stroke:#231f20;stroke-width:0.5" textLength="5.8" lengthAdjust="spacingAndGlyphs">2.</text>
<path d="M776.4,369.8 H778.8 M777.6,368.2 V375 M776.4,373.2 L779,371.6 M780,369.4 H786.4 M783.2,368.2 V370.2 M781.4,370.8 L782.2,373.4 M785.4,370.8 L784.4,373.4 M779.8,374.6 H786.6" stroke="#231f20" stroke-width="1.6" fill="none"/>
<text x="788.8" y="374.9" font-size="8.8" font-weight="bold" style="stroke:#231f20;stroke-width:0.5" textLength="12.6" lengthAdjust="spacingAndGlyphs">out</text>
<path d="M783.4,383 Q791.6,388.6 789.4,396 Q787.6,400.6 783.4,403.6" stroke="#231f20" stroke-width="0.9" fill="none" />
<path d="M780.8,405.4 L784,399.8 L786.4,403 Z" stroke="#231f20" stroke-width="0.9" fill="#fff" />
</svg></body></html>
